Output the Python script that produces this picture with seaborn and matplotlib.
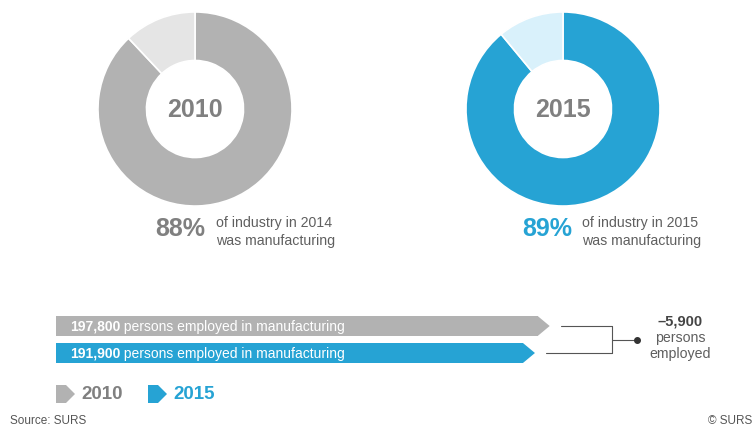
import numpy as np
import pandas as pd
import seaborn as sns
import matplotlib.pyplot as plt
from matplotlib.patches import Polygon

# Data
years = ["2010", "2015"]
manuf_share = [88, 89]          # % of industry that was manufacturing
share_notes = ["of industry in 2014\nwas manufacturing",
               "of industry in 2015\nwas manufacturing"]
employed = [197800, 191900]     # persons employed in manufacturing
bar_labels = ["197,800", "191,900"]
change_label = "\u20135,900"

dark = ["#b2b2b2", "#26a3d4"]
light = ["#e5e5e5", "#d9f1fb"]
txt_col = ["#808080", "#26a3d4"]

sns.set_theme(style="white")
plt.rcParams["font.family"] = ["Liberation Sans", "DejaVu Sans"]

W, H = 755, 427
fig = plt.figure(figsize=(W / 100, H / 100), dpi=100)


def px(x, y):
    return x / W, 1 - y / H


def ax_px(left, top, w, h):
    return fig.add_axes([left / W, 1 - (top + h) / H, w / W, h / H])


# %% donuts
centers = [195, 563]
R = 98
for i, cx in enumerate(centers):
    ax = ax_px(cx - R, 110 - R, 2 * R, 2 * R)
    ax.pie([manuf_share[i], 100 - manuf_share[i]], colors=[dark[i], light[i]],
           startangle=90, counterclock=False, radius=1,
           wedgeprops=dict(width=0.5, edgecolor="white", linewidth=1.2))
    ax.set_xlim(-1.01, 1.01)
    ax.set_ylim(-1.01, 1.01)
    ax.axis("off")
    ax.text(0, 0, years[i], ha="center", va="center", fontsize=18,
            fontweight="bold", color="#808080")

    # share below
    fig.text(*px(cx + 10 - i, 229), f"{manuf_share[i]}%", ha="right",
             va="center", fontsize=18, fontweight="bold", color=txt_col[i])
    fig.text(*px(cx + 21 - 2 * i, 232), share_notes[i],
             ha="left", va="center", fontsize=10.2, color="#5f5f5f",
             linespacing=1.35)

# %% bars
bax = ax_px(56, 313.5, 599, 54)
xmax = 240000
upp = xmax / 599  # data units per pixel
tip = 12 * upp
df = pd.DataFrame({"year": years, "value": [v - tip for v in employed]})
sns.barplot(data=df, y="year", x="value", hue="year", palette=dark,
            width=0.74, legend=False, ax=bax, saturation=1, linewidth=0)
hh = 0.37
for i, v in enumerate(employed):
    bax.add_patch(Polygon([(v - tip, i - hh), (v, i), (v - tip, i + hh)],
                          closed=True, color=dark[i], lw=0))
    t = bax.annotate(bar_labels[i], xy=(0, i), xytext=(14, 0),
                     textcoords="offset pixels", va="center", ha="left",
                     fontsize=10, fontweight="bold", color="white")
    bax.annotate(" persons employed in manufacturing", xy=(1, 0.5),
                 xycoords=t, va="center", ha="left", fontsize=10,
                 color="white")
bax.set_xlim(0, xmax)
bax.set_ylim(1.5, -0.5)
bax.axis("off")

# bracket showing the change
vx = (612 - 56) * upp
dot_x = (637 - 56) * upp
for i, v in enumerate(employed):
    bax.plot([v + 11 * upp, vx], [i, i], color="#555555", lw=0.8,
             clip_on=False)
bax.plot([vx, vx], [0, 1], color="#555555", lw=0.8, clip_on=False)
bax.plot([vx, dot_x], [0.5, 0.5], color="#555555", lw=0.8, clip_on=False)
bax.plot([dot_x], [0.5], "o", color="#333333", ms=4, clip_on=False)

fig.text(*px(680, 322), change_label, ha="center", va="center", fontsize=10.5,
         fontweight="bold", color="#444444")
fig.text(*px(680, 346), "persons\nemployed", ha="center", va="center",
         fontsize=10.2, color="#5f5f5f", linespacing=1.2)

# %% legend
for i, lx in enumerate([56, 148]):
    x0, x1, x2 = lx, lx + 10, lx + 19
    y0, y1 = 386, 404
    shape = [px(x0, y0), px(x1, y0), px(x2, (y0 + y1) / 2), px(x1, y1),
             px(x0, y1)]
    fig.patches.append(Polygon(shape, closed=True, color=dark[i], lw=0,
                               transform=fig.transFigure, figure=fig))
    fig.text(*px(lx + 25, 395), years[i], ha="left", va="center",
             fontsize=13.5, fontweight="bold", color=txt_col[i])

# %% footer
fig.text(*px(10, 421), "Source: SURS", ha="left", va="center", fontsize=8.5,
         color="#555555")
fig.text(*px(752, 421), "\u00a9 SURS", ha="right", va="center", fontsize=8.5,
         color="#555555")

fig.savefig("out.png", dpi=100)
